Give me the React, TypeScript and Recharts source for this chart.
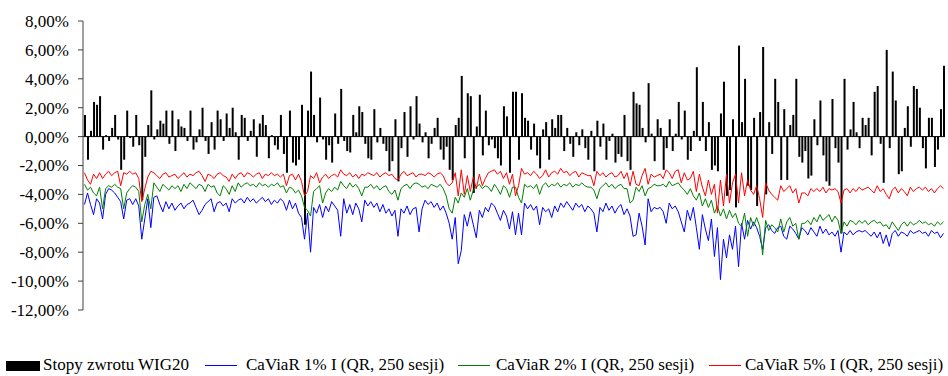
import { ComposedChart, Bar, Line, XAxis, YAxis, ReferenceLine } from "recharts";

// daily WIG20 returns (%) left to right
const wig20Returns = [
  1.5, -1.6, 0.4, 2.4, 2.2, 2.8, -0.9, 0.1, -0.3, 0.6, 1.5, -0.2, -2.3, -1.6, 1.8, -0.1, -0.7, 1.5, -0.6, -4.4,
  -1.4, 0.8, 3.2, -0.2, 0.5, 1.1, 0.9, 1.8, -0.5, 1.8, -1.0, 1.2, 0.7, 0.6, -0.3, 1.8, -0.9, -0.4, 0.5, 2.0,
  -0.3, -1.2, 1.0, -0.9, 1.8, 1.2, -0.3,
  1.6, 0.6, 2.0, 0.3, -1.6, 1.5, 1.3, -0.3, 0.4, 1.2, -1.4, 0.9, 1.5, 0.8, -1.5, 0.1, -0.6, -0.9, 1.5, -1.2,
  -2.5, 1.8, -1.8, -2.0, -1.6, 2.2, -6.1, 1.8, 4.5, 1.5, -0.4, 2.7, -0.2, -1.6, -0.6, -1.8, 1.6, -0.5, 3.3, -0.3,
  -1.0, -1.1, 1.5, 0.3, 2.1, 1.7, -0.5, -1.5,
  -1.6, 1.9, -0.4, 0.6, -0.5, -1.0, -2.4, -1.7, 1.2, -3.1, -0.8, 1.7, -1.4, 2.1, -0.2, 2.8, 0.9, -0.4, 0.3, -1.5,
  -0.5, 0.6, 1.3, -0.9, -1.6, -0.7, -2.3, -3.0, 0.8, 1.3, 4.2, -1.5, 3.0, 2.8, -3.9, 0.7, 2.9, -1.3, 1.8, -0.6,
  -0.2, -0.8, -1.5, -2.0, 2.1, 1.4, -2.5, 3.1,
  3.1, -1.6, 3.0, 1.3, 1.1, -0.9, 0.9, -1.3, -2.2, 0.5, 1.0, -1.6, 1.2, 0.6, 1.5, 1.5, -1.0, 0.6, -0.5, -1.4,
  0.3, -0.6, 0.5, -0.8, -1.6, 0.4, -2.4, 1.1, -0.7, 0.9, -1.6, -0.3, 0.2, -1.8, -1.2, -1.4, 1.5, -1.7, -2.3, 3.1,
  2.3, 2.2, 0.6, -0.4, 3.7, 0.2, -1.7, 1.2,
  0.6, -2.3, -0.8, 1.2, -1.0, 0.2, 2.4, -0.2, 1.8, -1.6, -1.0, 0.4, 4.8, -0.3, 2.4, -1.0, 1.0, -2.3, -2.0, -2.4,
  1.6, 3.8, -4.1, -3.7, 1.2, -4.9, 6.3, 1.0, 4.0, -3.4, -3.7, 1.3, -4.8, 1.7, 6.2, -4.0, 1.0, -1.2, 4.0, 2.4,
  -3.0, 1.9, -3.0, 0.8, 1.5, 4.0, -1.4, -1.8,
  -1.0, -2.9, -2.7, 1.2, -0.6, 2.5, -1.3, -3.1, -3.4, 2.6, -0.8, -1.8, -6.7, 4.0, -0.9, 0.5, 2.4, 0.3, -0.8, 1.3,
  0.8, 1.3, -1.3, 3.1, 3.5, -0.5, -3.2, 6.0, -0.8, 4.5, 2.5, -2.6, -2.4, 0.6, 2.1, -0.7, 3.5, 3.3, 2.0, -0.8,
  -2.2, 1.3, 1.3, -2.1, -0.9, 1.9, 4.9,
];

// CaViaR 1% (blue)
const caviar1 = [
  -4.7, -3.9, -4.7, -5.4, -4.3, -4.6, -5.7, -4.0, -3.6, -3.7, -3.9, -4.2, -4.5, -5.7, -4.4, -4.3, -4.7, -4.3, -4.8, -7.1,
  -5.7, -4.3, -6.3, -4.2, -4.1, -4.7, -5.2, -4.5, -5.0, -4.6, -5.1, -4.8, -4.6, -5.0, -4.7, -4.6, -4.4, -4.9, -5.4, -5.1,
  -4.7, -4.5, -4.3, -5.2, -4.6, -4.5, -4.8,
  -4.6, -5.2, -4.3, -4.6, -4.4, -4.3, -4.6, -4.2, -4.5, -4.3, -4.6, -4.4, -4.2, -4.5, -4.3, -4.7, -4.4, -4.6, -4.3, -4.5,
  -5.1, -4.4, -5.0, -4.6, -5.3, -5.6, -7.1, -5.3, -8.0, -4.9, -5.3, -4.7, -5.6, -4.8, -5.2, -4.5, -4.8, -5.1, -6.9, -4.3,
  -5.3, -4.7, -5.4, -4.6, -5.0, -5.9, -4.4, -4.8,
  -4.5, -4.9, -4.6, -5.2, -4.7, -5.3, -5.0, -5.5, -5.1, -6.9, -5.0, -5.3, -4.8, -5.4, -5.0, -4.9, -6.6, -5.0, -4.4, -4.7,
  -4.5, -4.9, -4.6, -5.1, -4.8, -5.3, -6.0, -7.1, -5.6, -8.8, -7.9, -5.4, -6.2, -5.2, -6.1, -7.0, -5.1, -5.6, -4.9, -5.2,
  -4.6, -4.8, -5.3, -5.8, -5.1, -5.5, -6.4, -5.2,
  -6.8, -5.3, -6.8, -4.6, -5.0, -4.7, -5.1, -4.8, -6.1, -4.9, -5.2, -5.0, -5.6, -4.8, -5.2, -4.6, -4.9, -4.5, -4.8, -5.1,
  -4.6, -4.9, -4.7, -5.2, -4.8, -5.0, -5.3, -6.6, -4.9, -5.2, -4.6, -5.1, -4.8, -5.3, -4.9, -4.7, -5.4, -5.0, -5.5, -6.9,
  -6.8, -5.3, -6.2, -7.5, -4.3, -5.2, -4.9, -5.0,
  -4.9, -5.2, -6.0, -4.6, -5.0, -4.8, -5.2, -5.9, -6.6, -5.1, -5.8, -4.9, -6.3, -7.8, -5.4, -6.4, -7.2, -5.7, -8.3, -6.3,
  -9.9, -7.1, -8.4, -6.8, -7.8, -6.2, -9.0, -6.0, -7.1, -5.8, -6.4, -5.9, -6.3, -6.9, -7.8, -6.3, -6.1, -6.5, -6.7, -6.3,
  -6.2, -6.9, -7.1, -6.2, -6.4, -6.7, -7.1, -6.3,
  -6.5, -6.8, -6.3, -6.6, -6.9, -6.2, -6.7, -6.4, -6.8, -6.6, -6.9, -6.5, -8.0, -6.6, -6.8, -6.5, -6.8, -6.6, -6.5, -6.6,
  -6.5, -6.7, -6.9, -6.6, -7.0, -6.6, -7.4, -6.8, -7.6, -6.7, -6.5, -6.9, -6.6, -6.7, -6.9, -6.5, -6.7, -6.6, -6.5, -6.7,
  -6.6, -6.9, -6.5, -6.7, -6.6, -7.0, -6.7,
];

// CaViaR 2% (green)
const caviar2 = [
  -3.3, -3.7, -3.5, -3.9, -4.1, -3.5, -5.0, -3.6, -3.4, -3.5, -3.3, -3.5, -3.6, -5.0, -3.9, -3.6, -3.4, -3.5, -3.8, -5.9,
  -4.7, -4.0, -5.0, -3.2, -3.5, -3.8, -3.3, -3.5, -3.7, -3.4, -3.6, -3.4, -3.8, -3.3, -3.6, -3.2, -3.4, -3.6, -3.3, -3.4,
  -3.8, -3.3, -3.5, -3.4, -3.9, -4.1, -3.4,
  -3.6, -4.0, -3.4, -3.8, -3.2, -3.5, -3.3, -3.2, -3.4, -3.3, -3.5, -3.2, -3.4, -3.3, -3.5, -3.3, -3.4, -3.2, -3.5, -3.4,
  -3.9, -3.5, -3.6, -3.9, -3.7, -4.1, -4.9, -5.1, -5.5, -3.8, -3.6, -3.4, -4.6, -3.9, -3.6, -3.8, -3.5, -3.7, -3.1, -3.4,
  -3.6, -3.2, -3.5, -3.3, -3.6, -4.1, -3.5, -3.5,
  -3.3, -3.6, -3.4, -3.7, -3.5, -3.4, -3.8, -4.0, -3.7, -4.4, -3.6, -3.4, -3.3, -3.6, -3.3, -3.2, -3.3, -3.5, -3.4, -3.6,
  -3.3, -3.4, -3.5, -3.3, -3.6, -4.1, -5.0, -5.3, -4.2, -4.6, -3.9, -4.2, -3.6, -4.4, -3.7, -3.5, -3.3, -3.6, -3.4, -3.5,
  -3.8, -3.3, -3.6, -4.0, -3.4, -3.6, -4.2, -3.5,
  -3.5, -4.2, -4.6, -3.3, -3.5, -3.4, -3.6, -3.3, -4.0, -3.4, -3.2, -3.5, -3.3, -3.4, -3.2, -3.5, -3.3, -3.4, -3.2, -3.5,
  -3.3, -3.4, -3.2, -3.4, -3.5, -3.5, -3.7, -4.3, -3.6, -3.4, -3.2, -3.5, -3.3, -3.6, -3.4, -3.3, -3.6, -3.6, -4.6, -4.4,
  -3.5, -3.8, -3.4, -4.1, -3.6, -3.5, -3.3, -3.4,
  -3.4, -3.3, -3.5, -3.1, -3.4, -3.3, -3.2, -3.5, -3.7, -4.0, -3.6, -4.1, -4.4, -3.9, -4.8, -4.3, -4.9, -4.4, -5.3, -4.8,
  -5.5, -5.0, -5.7, -5.1, -5.6, -5.3, -6.0, -6.2, -5.3, -6.9, -5.6, -6.2, -5.6, -6.2, -8.2, -5.8, -6.5, -6.1, -6.3, -6.6,
  -5.7, -6.6, -5.9, -5.6, -6.2, -6.0, -7.1, -6.0,
  -6.0, -5.8, -6.1, -5.6, -5.9, -5.4, -5.8, -5.6, -5.4, -5.9, -5.5, -5.8, -6.7, -5.9, -6.2, -5.8, -5.9, -6.1, -5.8, -6.0,
  -5.8, -6.1, -5.9, -5.8, -6.0, -5.9, -6.2, -6.1, -6.4, -5.9, -6.2, -6.5, -6.1, -5.9, -6.2, -5.9, -6.1, -6.0, -5.8, -6.0,
  -5.9, -6.1, -6.0, -6.2, -5.9, -6.1, -5.9,
];

// CaViaR 5% (red)
const caviar5 = [
  -2.5, -3.0, -3.3, -2.6, -2.9, -2.5, -2.9, -2.6, -2.4, -2.7, -2.5, -2.4, -3.4, -2.5, -2.6, -2.4, -2.6, -2.5, -2.9, -4.5,
  -3.6, -2.8, -2.4, -2.5, -2.7, -2.9, -2.6, -2.5, -2.8, -2.7, -2.6, -2.9, -2.7, -2.5, -2.8, -2.6, -2.7, -2.5, -2.4, -2.7,
  -3.1, -2.6, -2.7, -2.9, -2.6, -2.5, -2.7,
  -2.8, -3.1, -2.6, -2.9, -2.6, -2.5, -2.8, -2.5, -2.6, -2.8, -2.6, -2.5, -2.9, -2.6, -2.7, -2.5, -2.7, -2.6, -2.8, -2.6,
  -3.4, -2.7, -2.6, -3.0, -2.6, -3.1, -4.1, -3.8, -2.7, -2.9, -2.5, -3.2, -2.8, -2.6, -2.9, -2.7, -2.6, -2.8, -2.3, -2.6,
  -2.7, -2.5, -2.8, -2.6, -2.9, -2.6, -2.7, -2.5,
  -2.6, -2.7, -2.5, -2.8, -2.6, -2.5, -2.7, -2.6, -2.9, -3.0, -2.6, -2.4, -2.7, -2.6, -2.5, -2.8, -2.6, -2.6, -2.7, -2.5,
  -2.6, -2.8, -2.6, -2.5, -2.7, -3.2, -3.4, -3.2, -2.5, -4.1, -2.3, -4.0, -2.7, -3.8, -2.8, -3.6, -2.6, -3.4, -2.9, -2.5,
  -2.4, -2.3, -2.6, -2.4, -2.9, -2.5, -3.3, -2.6,
  -4.1, -3.4, -2.2, -2.6, -2.5, -2.7, -2.4, -2.6, -2.9, -2.7, -2.3, -2.8, -2.5, -2.4, -2.6, -2.2, -2.5, -2.4, -2.7, -2.5,
  -2.4, -2.8, -2.5, -2.6, -2.7, -2.7, -3.4, -2.4, -2.7, -2.5, -2.8, -2.6, -2.5, -2.8, -2.7, -2.4, -2.9, -2.5, -3.4, -2.4,
  -3.3, -3.4, -2.7, -2.2, -3.3, -2.6, -2.8, -2.7,
  -2.6, -2.9, -2.3, -2.5, -2.9, -2.4, -2.3, -3.2, -2.5, -3.0, -2.9, -2.4, -3.8, -2.6, -3.5, -4.1, -3.0, -4.0, -3.3, -5.3,
  -3.0, -4.8, -2.6, -4.6, -3.2, -2.6, -4.6, -2.5, -4.1, -3.0, -3.7, -4.0, -3.4, -4.3, -5.6, -3.2, -3.7, -4.0, -4.2, -4.4,
  -3.4, -3.8, -3.6, -3.4, -3.9, -3.6, -4.6, -3.9,
  -3.9, -4.1, -3.6, -3.8, -3.6, -3.8, -3.5, -3.9, -3.6, -3.7, -3.6, -3.8, -4.6, -3.7, -3.6, -3.9, -3.6, -3.8, -3.5, -3.7,
  -3.6, -3.5, -3.7, -3.9, -3.4, -3.8, -3.6, -4.0, -4.3, -3.7, -3.5, -3.9, -3.6, -3.8, -4.1, -3.5, -3.8, -3.6, -3.5, -3.7,
  -3.5, -3.8, -3.6, -3.9, -3.6, -3.4, -3.6,
];

const yTicks = [8, 6, 4, 2, 0, -2, -4, -6, -8, -10, -12];

const seriesNames = {
  r: "Stopy zwrotu WIG20",
  c1: "CaViaR 1% I (QR, 250 sesji)",
  c2: "CaViaR 2% I (QR, 250 sesji)",
  c5: "CaViaR 5% I (QR, 250 sesji)",
};

const data = wig20Returns.map((r, i) => ({
  i,
  r,
  c1: caviar1[i],
  c2: caviar2[i],
  c5: caviar5[i],
}));

const FONT = "'Liberation Serif', 'Times New Roman', serif";

const fmtPct = (v: number) => `${v.toFixed(2).replace(".", ",")}%`;

function PercentTick({ x, y, payload }: any) {
  return (
    <text x={x} y={y} dy="0.35em" textAnchor="end" fontFamily={FONT} fontSize={17} fill="#000">
      {fmtPct(payload.value)}
    </text>
  );
}

// legend drawn as a plain svg strip under the plot
function ChartLegend() {
  const text = (x: number, label: string) => (
    <text x={x} y={370} fontFamily={FONT} fontSize={17} fill="#000">
      {label}
    </text>
  );
  const line = (x: number, color: string) => (
    <line x1={x} x2={x + 32} y1={365.5} y2={365.5} stroke={color} strokeWidth={1} />
  );
  return (
    <svg width={948} height={376} style={{ position: "absolute", left: 0, top: 0, pointerEvents: "none" }}>
      <rect x={6} y={361} width={34} height={10} fill="#000" />
      {text(43, seriesNames.r)}
      {line(205, "#0000FF")}
      {text(246, seriesNames.c1)}
      {line(458, "#008000")}
      {text(496, seriesNames.c2)}
      {line(709, "#FF0000")}
      {text(745, seriesNames.c5)}
    </svg>
  );
}

export default function App() {
  return (
    <div style={{ position: "absolute", left: 0, top: 0, width: 948, height: 376, background: "#fff" }}>
      <ComposedChart
        width={948}
        height={376}
        data={data}
        margin={{ top: 21, right: 3, bottom: 66, left: 0 }}
        barCategoryGap={0}
      >
        <XAxis dataKey="i" hide height={0} />
        <YAxis
          type="number"
          domain={[-12, 8]}
          ticks={yTicks}
          interval={0}
          width={83}
          tickSize={5}
          tickMargin={9}
          axisLine={{ stroke: "#404040" }}
          tickLine={{ stroke: "#404040" }}
          tick={<PercentTick />}
        />
        <Bar dataKey="r" fill="#000" barSize={2} isAnimationActive={false} />
        <ReferenceLine y={0} stroke="#000" strokeWidth={1} />
        <Line type="linear" dataKey="c1" stroke="#0000FF" strokeWidth={1} dot={false} isAnimationActive={false} />
        <Line type="linear" dataKey="c2" stroke="#008000" strokeWidth={1} dot={false} isAnimationActive={false} />
        <Line type="linear" dataKey="c5" stroke="#FF0000" strokeWidth={1} dot={false} isAnimationActive={false} />
      </ComposedChart>
      <ChartLegend />
    </div>
  );
}
